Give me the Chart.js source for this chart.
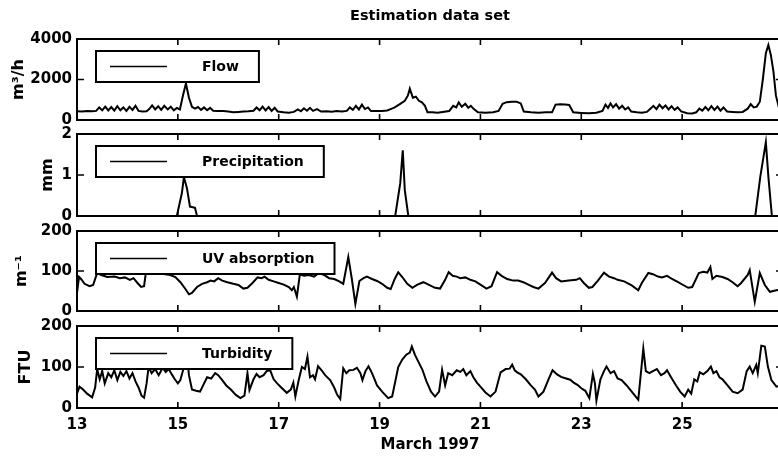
<!DOCTYPE html>
<html>
<head>
<meta charset="utf-8">
<script src="https://cdn.jsdelivr.net/npm/chart.js@4.4.1/dist/chart.umd.min.js"></script>
<style>
  html, body { margin: 0; padding: 0; background: #fff; overflow: hidden; }
  #wrap { position: relative; width: 800px; height: 456px; }
  #wrap canvas { position: absolute; left: 0; }
</style>
</head>
<body>
<div id="wrap">
  <canvas id="c0" width="800" height="140" style="top:0px"></canvas>
  <canvas id="c1" width="800" height="122" style="top:114px"></canvas>
  <canvas id="c2" width="800" height="120" style="top:211px"></canvas>
  <canvas id="c3" width="800" height="150" style="top:306px"></canvas>
</div>
<script>
// day of March 1997 -> value
const flowSeries = [
  [13.00,430],[13.10,420],[13.20,440],[13.30,430],[13.38,450],[13.44,620],[13.50,480],[13.56,660],
  [13.62,470],[13.68,640],[13.74,460],[13.80,680],[13.86,480],[13.92,620],[13.98,450],[14.04,650],
  [14.10,500],[14.16,700],[14.22,450],[14.30,420],[14.38,430],[14.44,560],[14.49,720],[14.55,520],
  [14.61,680],[14.67,500],[14.73,700],[14.80,520],[14.86,660],[14.92,480],[14.98,600],[15.04,520],
  [15.10,1200],[15.16,1800],[15.22,1100],[15.28,650],[15.34,560],[15.40,640],[15.46,500],[15.52,620],
  [15.58,480],[15.64,600],[15.70,460],[15.80,450],[15.90,440],[16.00,420],[16.10,380],[16.20,400],
  [16.30,420],[16.40,430],[16.50,460],[16.56,620],[16.62,480],[16.68,660],[16.74,470],[16.80,640],
  [16.86,450],[16.92,600],[16.98,420],[17.10,380],[17.20,360],[17.30,400],[17.38,520],[17.44,430],
  [17.50,580],[17.56,460],[17.62,600],[17.68,450],[17.76,540],[17.84,420],[17.95,430],[18.05,410],
  [18.15,440],[18.25,420],[18.35,450],[18.41,620],[18.47,500],[18.53,700],[18.59,520],[18.65,760],
  [18.71,540],[18.77,620],[18.83,440],[18.95,450],[19.05,440],[19.15,470],[19.22,540],[19.30,620],
  [19.41,800],[19.50,950],[19.56,1200],[19.60,1550],[19.66,1100],[19.72,1150],[19.78,950],[19.84,870],
  [19.90,700],[19.95,380],[20.05,380],[20.15,360],[20.25,400],[20.38,440],[20.46,700],[20.52,620],
  [20.57,870],[20.63,650],[20.70,800],[20.76,600],[20.81,700],[20.87,540],[20.95,380],[21.10,360],
  [21.25,380],[21.36,450],[21.44,800],[21.52,880],[21.62,900],[21.72,900],[21.80,820],[21.86,420],
  [22.00,380],[22.15,360],[22.30,380],[22.42,380],[22.49,760],[22.58,780],[22.68,760],[22.76,740],
  [22.84,380],[23.00,350],[23.15,330],[23.30,360],[23.42,450],[23.48,760],[23.53,600],[23.58,820],
  [23.63,620],[23.69,780],[23.75,560],[23.81,700],[23.87,520],[23.93,620],[23.99,420],[24.10,380],
  [24.20,360],[24.30,400],[24.37,560],[24.43,700],[24.49,540],[24.55,760],[24.61,580],[24.67,720],
  [24.73,520],[24.79,680],[24.85,500],[24.91,620],[24.98,420],[25.10,330],[25.20,320],[25.28,380],
  [25.34,560],[25.40,460],[25.46,640],[25.52,480],[25.58,680],[25.64,500],[25.70,660],[25.76,460],
  [25.82,620],[25.89,420],[26.00,400],[26.10,380],[26.20,400],[26.30,560],[26.36,780],[26.42,620],
  [26.48,660],[26.54,900],[26.60,2000],[26.66,3300],[26.71,3700],[26.76,3200],[26.81,2400],[26.86,1200],
  [26.91,700],[26.96,900],[27.00,950]
];
const precipSeries = [
  [13.00,0],[14.98,0],[15.08,0.56],[15.12,0.95],[15.18,0.68],[15.24,0.23],[15.34,0.2],[15.38,0],
  [19.31,0],[19.41,0.8],[19.46,1.6],[19.50,0.63],[19.57,0],
  [26.45,0],[26.55,0.96],[26.66,1.8],[26.71,0.96],[26.78,0],[27.00,0]
];
const uvSeries = [
  [13.00,45],[13.04,85],[13.08,80],[13.15,68],[13.25,62],[13.32,65],[13.40,95],[13.48,90],
  [13.60,85],[13.75,86],[13.85,82],[13.95,84],[14.05,78],[14.12,82],[14.20,70],[14.27,60],
  [14.33,62],[14.37,100],[14.50,98],[14.62,95],[14.75,92],[14.85,90],[14.95,85],[15.05,72],
  [15.15,55],[15.22,42],[15.28,45],[15.38,60],[15.48,68],[15.58,72],[15.65,76],[15.72,74],
  [15.80,82],[15.88,76],[15.98,72],[16.10,68],[16.20,65],[16.30,56],[16.38,58],[16.48,70],
  [16.58,84],[16.66,82],[16.72,86],[16.80,78],[16.90,74],[17.00,70],[17.10,66],[17.20,60],
  [17.26,52],[17.30,60],[17.36,36],[17.42,92],[17.50,88],[17.60,90],[17.70,86],[17.80,95],
  [17.90,90],[18.00,82],[18.10,80],[18.20,74],[18.28,68],[18.38,135],[18.45,80],[18.52,18],
  [18.60,75],[18.68,82],[18.75,86],[18.85,80],[18.95,75],[19.05,68],[19.15,58],[19.22,55],
  [19.30,80],[19.37,97],[19.45,85],[19.55,68],[19.65,58],[19.75,66],[19.87,72],[19.97,66],
  [20.10,58],[20.20,56],[20.30,78],[20.37,97],[20.45,88],[20.53,86],[20.60,82],[20.70,84],
  [20.80,78],[20.90,74],[21.00,66],[21.12,56],[21.22,62],[21.33,97],[21.42,88],[21.53,80],
  [21.65,76],[21.75,76],[21.85,72],[21.95,66],[22.05,60],[22.15,56],[22.28,70],[22.42,96],
  [22.50,82],[22.60,74],[22.75,76],[22.90,78],[22.97,82],[23.05,70],[23.15,58],[23.22,60],
  [23.33,76],[23.45,96],[23.55,86],[23.65,82],[23.72,78],[23.85,74],[24.00,64],[24.13,52],
  [24.20,70],[24.33,95],[24.42,92],[24.52,86],[24.60,84],[24.70,88],[24.80,80],[24.92,72],
  [25.02,65],[25.12,58],[25.20,60],[25.33,95],[25.42,98],[25.50,96],[25.56,110],[25.60,80],
  [25.68,88],[25.80,85],[25.90,80],[26.00,72],[26.10,62],[26.17,70],[26.30,90],[26.34,102],
  [26.44,23],[26.54,95],[26.64,65],[26.74,48],[26.87,52],[27.00,55]
];
const turbSeries = [
  [13.00,35],[13.05,52],[13.12,45],[13.20,35],[13.30,26],[13.36,50],[13.40,95],[13.45,70],
  [13.50,90],[13.55,60],[13.62,85],[13.68,75],[13.74,92],[13.80,68],[13.86,88],[13.92,78],
  [13.98,90],[14.04,72],[14.10,85],[14.16,65],[14.22,50],[14.28,30],[14.33,25],[14.38,60],
  [14.42,100],[14.48,85],[14.55,95],[14.62,80],[14.70,98],[14.76,88],[14.82,95],[14.88,82],
  [14.94,70],[15.00,60],[15.05,68],[15.12,100],[15.18,130],[15.22,80],[15.28,45],[15.36,42],
  [15.44,40],[15.52,60],[15.58,75],[15.66,72],[15.74,85],[15.80,80],[15.88,68],[15.96,55],
  [16.05,45],[16.15,32],[16.24,24],[16.32,30],[16.38,85],[16.42,44],[16.50,70],[16.56,83],
  [16.62,75],[16.70,80],[16.76,90],[16.83,92],[16.90,70],[16.97,60],[17.05,50],[17.16,37],
  [17.24,45],[17.29,62],[17.33,28],[17.40,70],[17.46,100],[17.52,95],[17.57,125],[17.62,75],
  [17.68,80],[17.72,70],[17.78,102],[17.85,92],[17.92,80],[18.02,68],[18.10,50],[18.16,32],
  [18.22,22],[18.28,97],[18.34,85],[18.40,92],[18.48,93],[18.55,98],[18.62,85],[18.66,68],
  [18.72,90],[18.78,102],[18.85,85],[18.95,55],[19.05,40],[19.17,24],[19.25,28],[19.37,100],
  [19.45,118],[19.53,130],[19.60,135],[19.64,150],[19.70,130],[19.78,110],[19.85,93],[19.93,65],
  [20.02,40],[20.10,28],[20.18,40],[20.24,93],[20.30,55],[20.36,85],[20.44,80],[20.53,92],
  [20.60,88],[20.66,95],[20.72,80],[20.80,90],[20.86,75],[20.93,62],[21.00,52],[21.10,38],
  [21.20,28],[21.30,40],[21.40,87],[21.50,95],[21.58,96],[21.63,106],[21.68,92],[21.73,87],
  [21.80,82],[21.90,70],[22.00,55],[22.08,45],[22.15,28],[22.25,40],[22.35,70],[22.43,92],
  [22.52,82],[22.60,76],[22.70,72],[22.78,69],[22.85,62],[22.93,56],[23.00,48],[23.08,42],
  [23.16,24],[23.23,83],[23.27,60],[23.30,18],[23.38,70],[23.45,90],[23.50,101],[23.58,85],
  [23.65,90],[23.72,72],[23.80,68],[23.90,55],[24.00,40],[24.13,20],[24.23,145],[24.28,90],
  [24.35,85],[24.42,90],[24.50,95],[24.58,80],[24.65,85],[24.70,92],[24.78,75],[24.88,55],
  [24.96,40],[25.05,28],[25.12,45],[25.18,35],[25.24,70],[25.30,65],[25.35,87],[25.42,82],
  [25.50,90],[25.57,101],[25.62,85],[25.68,90],[25.74,75],[25.80,70],[25.90,55],[26.00,40],
  [26.10,36],[26.20,45],[26.28,90],[26.34,101],[26.40,85],[26.47,105],[26.50,85],[26.57,152],
  [26.64,150],[26.70,101],[26.77,68],[26.87,52],[27.00,56]
];

const dayTicks = [13, 15, 17, 19, 21, 23, 25];
const flowTicks = [0, 2000, 4000];
const precipTicks = [0, 1, 2];
const uvTicks = [0, 100, 200];
const turbTicks = [0, 100, 200];

Chart.defaults.font.family = "'DejaVu Sans', sans-serif";
Chart.defaults.color = '#000';

// matlab style box with inward ticks
const framePlugin = {
  id: 'frame',
  afterDraw(chart) {
    const {ctx, chartArea: a, scales: {x, y}} = chart;
    ctx.save();
    ctx.strokeStyle = '#000';
    ctx.lineWidth = 2;
    ctx.strokeRect(a.left, a.top, a.width, a.height);
    ctx.lineWidth = 1.6;
    ctx.beginPath();
    x.ticks.forEach(t => {
      const px = x.getPixelForValue(t.value);
      ctx.moveTo(px, a.top); ctx.lineTo(px, a.top + 6);
      ctx.moveTo(px, a.bottom); ctx.lineTo(px, a.bottom - 6);
    });
    y.ticks.forEach(t => {
      const py = y.getPixelForValue(t.value);
      ctx.moveTo(a.left, py); ctx.lineTo(a.left + 7, py);
      ctx.moveTo(a.right, py); ctx.lineTo(a.right - 7, py);
    });
    ctx.stroke();
    ctx.restore();
  }
};

// boxed legend in the upper left corner
const boxLegend = {
  id: 'boxLegend',
  afterDatasetsDraw(chart) {
    const {ctx, chartArea: a} = chart;
    const label = chart.data.datasets[0].label;
    ctx.save();
    ctx.font = "bold 14px 'DejaVu Sans'";
    const bx = a.left + 19, by = a.top + 12, bh = 31;
    const w = 106 + ctx.measureText(label).width + 20;
    ctx.fillStyle = '#fff';
    ctx.fillRect(bx, by, w, bh);
    ctx.strokeStyle = '#000';
    ctx.lineWidth = 2;
    ctx.strokeRect(bx, by, w, bh);
    const cy = by + bh / 2;
    ctx.lineWidth = 1.5;
    ctx.beginPath();
    ctx.moveTo(a.left + 33, cy);
    ctx.lineTo(a.left + 90, cy);
    ctx.stroke();
    ctx.fillStyle = '#000';
    ctx.textBaseline = 'middle';
    ctx.fillText(label, a.left + 125, cy + 1);
    ctx.restore();
  }
};

function makePanel(id, label, series, yTicks, yTitle, titlePad, extra) {
  const last = !!extra.bottomAxis;
  return new Chart(document.getElementById(id), {
    type: 'line',
    data: {
      datasets: [{
        label: label,
        data: series.map(p => ({x: p[0], y: p[1]})),
        borderColor: '#000',
        borderWidth: 2,
        pointRadius: 0,
        tension: 0,
        fill: false
      }]
    },
    options: {
      responsive: false,
      animation: false,
      events: [],
      layout: {padding: {left: 0, right: 17, top: extra.padTop, bottom: extra.padBottom}},
      plugins: {
        legend: {display: false},
        tooltip: {enabled: false},
        title: extra.title ? {
          display: true,
          text: extra.title,
          fullSize: false,
          font: {size: 14.5, weight: 'bold'},
          padding: {top: 8, bottom: 13.6}
        } : {display: false}
      },
      scales: {
        x: {
          type: 'linear',
          min: 13,
          max: 27,
          afterBuildTicks: s => { s.ticks = dayTicks.map(v => ({value: v})); },
          afterFit: s => { s.height = last ? 46 : 0; },
          grid: {display: false, drawTicks: false},
          border: {display: false},
          ticks: {display: last, padding: 8, font: {size: 15, weight: 'bold'}, maxRotation: 0},
          title: {
            display: last,
            text: 'March 1997',
            padding: {top: 0, bottom: 0},
            font: {size: 15, weight: 'bold'}
          }
        },
        y: {
          min: yTicks[0],
          max: yTicks[yTicks.length - 1],
          afterBuildTicks: s => { s.ticks = yTicks.map(v => ({value: v})); },
          afterFit: s => { s.width = 77; },
          grid: {display: false, drawTicks: false},
          border: {display: false},
          ticks: {padding: 5, font: {size: 15, weight: 'bold'}, callback: v => String(v)},
          title: {
            display: true,
            text: yTitle,
            padding: {top: titlePad, bottom: 0},
            font: {size: 16, weight: 'bold'}
          }
        }
      }
    },
    plugins: [boxLegend, framePlugin]
  });
}

makePanel('c0', 'Flow', flowSeries, flowTicks, 'm\u00b3/h', 9.5,
  {padTop: 0, padBottom: 20, title: 'Estimation data set'});
makePanel('c1', 'Precipitation', precipSeries, precipTicks, 'mm', 38.5,
  {padTop: 20, padBottom: 20});
makePanel('c2', 'UV absorption', uvSeries, uvTicks, 'm\u207b\u00b9', 12,
  {padTop: 20, padBottom: 20});
makePanel('c3', 'Turbidity', turbSeries, turbTicks, 'FTU', 16,
  {padTop: 20, padBottom: 2, bottomAxis: true});
</script>
</body>
</html>
